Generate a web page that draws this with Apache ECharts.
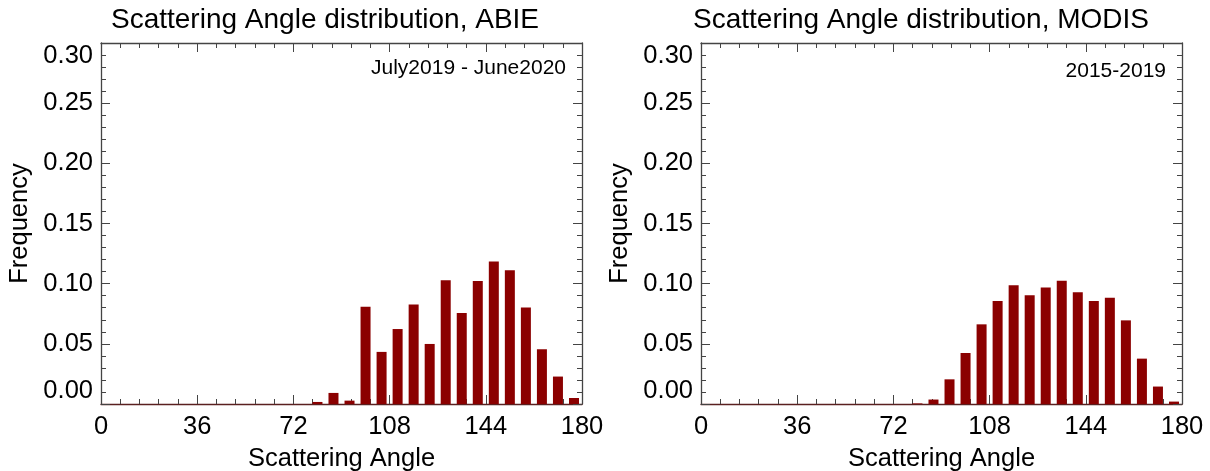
<!DOCTYPE html>
<html>
<head>
<meta charset="utf-8">
<script src="https://cdn.jsdelivr.net/npm/echarts@6/dist/echarts.min.js"></script>
<style>
html,body{margin:0;padding:0;background:#fff;}
#chart{width:1210px;height:471px;}
</style>
</head>
<body>
<div id="chart"></div>
<script>
// bin centres (deg), 6 degree bins
var angles = [81, 87, 93, 99, 105, 111, 117, 123, 129, 135, 141, 147, 153, 159, 165, 171, 177];
var abieFreq = [0.0017, 0.0092, 0.0028, 0.0809, 0.0433, 0.0623, 0.0826, 0.0499, 0.1028, 0.0757, 0.1022, 0.1185, 0.1111, 0.0801, 0.0455, 0.0228, 0.0050];
var modisFreq = [0.0005, 0.0037, 0.0205, 0.0424, 0.0662, 0.0856, 0.0986, 0.0903, 0.0969, 0.1025, 0.0928, 0.0856, 0.0884, 0.0695, 0.0377, 0.0145, 0.0020];
var titles = ['Scattering Angle distribution, ABIE', 'Scattering Angle distribution, MODIS'];
var periods = ['July2019 - June2020', '2015-2019'];
var xTicks = [0, 36, 72, 108, 144, 180];
var yTicks = [0, 0.05, 0.10, 0.15, 0.20, 0.25, 0.30];

var FONT = '"Liberation Sans", Arial, Helvetica, sans-serif';
var barColor = '#8b0000';
var panelLeft = [101, 701];
var axisGray = '#444';

function pairs(xs, ys){
	var out = [];
	for(var i=0;i<xs.length;i++){
		out.push([xs[i], ys[i]]);
	}
	return out;
}

// box axes: ticks pointing inwards, never snapped onto zero of the other axis
function boxAxis(p, pos, extra){
	var ax = {
		type: 'value', gridIndex: p, position: pos,
		axisLine: {show: true, onZero: false, lineStyle: {color: axisGray, width: 1.3}},
		axisTick: {show: true, inside: true, length: 9, lineStyle: {color: axisGray}},
		minorTick: {show: true, splitNumber: 5, length: 5, lineStyle: {color: axisGray}},
		axisLabel: {show: false},
		splitLine: {show: false}
	};
	for(var k in extra){ ax[k] = extra[k]; }
	return ax;
}

var grids = [], xAxes = [], yAxes = [], series = [], graphics = [];
var allData = [abieFreq, modisFreq];

for(var p=0;p<2;p++){
	grids.push({left: panelLeft[p], top: 43, width: 481, height: 361, containLabel: false, outerBoundsMode: 'none'});

	xAxes.push(boxAxis(p, 'bottom', {
		min: xTicks[0], max: xTicks[xTicks.length-1], interval: 36,
		name: 'Scattering Angle', nameLocation: 'middle', nameGap: 42,
		nameTextStyle: {fontFamily: FONT, fontSize: 25.5, color: '#000'},
		axisLine: {show: true, onZero: false, lineStyle: {color: '#5a2020', width: 1.3}},
		axisLabel: {show: true, fontFamily: FONT, fontSize: 25.5, color: '#000', margin: 10}
	}));
	xAxes.push(boxAxis(p, 'top', {min: 0, max: 180, interval: 36}));

	yAxes.push(boxAxis(p, 'left', {
		min: yTicks[0], max: yTicks[yTicks.length-1], interval: 0.05,
		name: 'Frequency', nameLocation: 'middle', nameGap: 68,
		nameTextStyle: {fontFamily: FONT, fontSize: 25.5, color: '#000'},
		axisLabel: {
			show: true, fontFamily: FONT, fontSize: 25.5, color: '#000', margin: 8,
			verticalAlignMaxLabel: 'top', verticalAlignMinLabel: 'bottom',
			formatter: function(v){ return v.toFixed(2); }
		}
	}));
	yAxes.push(boxAxis(p, 'right', {min: 0, max: 0.3, interval: 0.05}));

	series.push({
		type: 'bar',
		xAxisIndex: p*2, yAxisIndex: p*2,
		barWidth: 10,
		itemStyle: {color: barColor},
		data: pairs(angles, allData[p])
	});

	graphics.push({
		type: 'text', x: [325, 921][p], y: 20,
		style: {text: titles[p], fontFamily: FONT, fontSize: 28, fill: '#000', align: 'center', verticalAlign: 'middle'}
	});
	graphics.push({
		type: 'text', x: panelLeft[p] + 465, y: [68, 71][p],
		style: {text: periods[p], fontFamily: FONT, fontSize: 21, fill: '#000', align: 'right', verticalAlign: 'middle'}
	});
}

var myChart = echarts.init(document.getElementById('chart'));
var option = {
	animation: false,
	backgroundColor: '#fff',
	grid: grids,
	xAxis: xAxes,
	yAxis: yAxes,
	series: series,
	graphic: graphics
};
myChart.setOption(option);
</script>
</body>
</html>
